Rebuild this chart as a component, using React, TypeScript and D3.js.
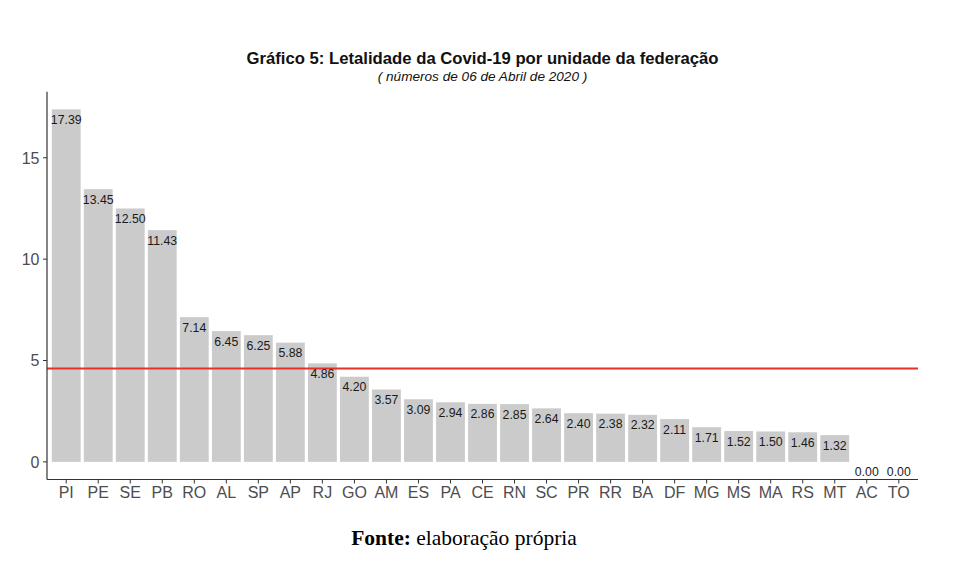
import React from "react";
import * as d3 from "d3";

const states = ["PI","PE","SE","PB","RO","AL","SP","AP","RJ","GO","AM","ES","PA","CE","RN","SC","PR","RR","BA","DF","MG","MS","MA","RS","MT","AC","TO"];
const lethality = [17.39,13.45,12.50,11.43,7.14,6.45,6.25,5.88,4.86,4.20,3.57,3.09,2.94,2.86,2.85,2.64,2.40,2.38,2.32,2.11,1.71,1.52,1.50,1.46,1.32,0.00,0.00];
const yTicks = [0, 5, 10, 15];
const referenceLine = 4.6;
const titleText = "Gráfico 5: Letalidade da Covid-19 por unidade da federação";
const subtitleText = "( números de 06 de Abril de 2020 )";

const W = 980, H = 572;
const left = 47, right = 918, top = 91.7, bottom = 479.5;

export default function App() {
  const n = states.length;
  const step = (right - left) / (n - 1 + 1.2);
  const x = d3.scaleBand<string>()
    .domain(states)
    .range([left + 0.6 * step - step / 2, right - 0.6 * step + step / 2])
    .paddingInner(0.1)
    .paddingOuter(0.05);
  const maxV = d3.max(lethality) as number;
  const y = d3.scaleLinear()
    .domain([-0.05 * maxV, maxV * 1.05])
    .range([bottom, top]);
  const sans = "'Liberation Sans', Arial, Helvetica, sans-serif";
  const axisCol = "#333333";
  const tickText = "#4d4d4d";
  return (
    <svg width={W} height={H} style={{ position: "absolute", left: 0, top: 0, background: "#fff" }} fontFamily={sans}>
      <text x={(left + right) / 2} y={64} textAnchor="middle" fontSize={16.7} fontWeight="bold" fill="#111">{titleText}</text>
      <text x={(left + right) / 2} y={81} textAnchor="middle" fontSize={13.6} fontStyle="italic" fill="#111">{subtitleText}</text>
      {states.map((s, i) => (
        <rect key={s} x={x(s)} width={x.bandwidth()} y={y(Math.max(lethality[i], 0))} height={y(0) - y(lethality[i])} fill="#cbcbcb" />
      ))}
      <line x1={left} x2={right} y1={y(referenceLine)} y2={y(referenceLine)} stroke="#e8302a" strokeWidth={2} />
      {states.map((s, i) => (
        <text key={"l" + s} x={(x(s) as number) + x.bandwidth() / 2} y={y(lethality[i]) + 14.5} textAnchor="middle" fontSize={12.3} fill="#1a1a1a">{lethality[i].toFixed(2)}</text>
      ))}
      <line x1={left} x2={left} y1={top} y2={bottom} stroke={axisCol} strokeWidth={1.2} />
      <line x1={left} x2={right} y1={bottom} y2={bottom} stroke={axisCol} strokeWidth={1.2} />
      {yTicks.map(t => (
        <g key={"y" + t}>
          <line x1={left - 4} x2={left} y1={y(t)} y2={y(t)} stroke={axisCol} strokeWidth={1} />
          <text x={left - 7.5} y={y(t) + 5.8} textAnchor="end" fontSize={16} fill={tickText}>{t}</text>
        </g>
      ))}
      {states.map(s => {
        const cx = (x(s) as number) + x.bandwidth() / 2;
        return (
          <g key={"x" + s}>
            <line x1={cx} x2={cx} y1={bottom} y2={bottom + 4} stroke={axisCol} strokeWidth={1} />
            <text x={cx} y={bottom + 18.7} textAnchor="middle" fontSize={16} fill={tickText}>{s}</text>
          </g>
        );
      })}
      <text x={464} y={545} textAnchor="middle" fontSize={21.5} fontFamily="'Liberation Serif', 'Times New Roman', serif" fill="#000">
        <tspan fontWeight="bold">Fonte:</tspan> elaboração própria
      </text>
    </svg>
  );
}
